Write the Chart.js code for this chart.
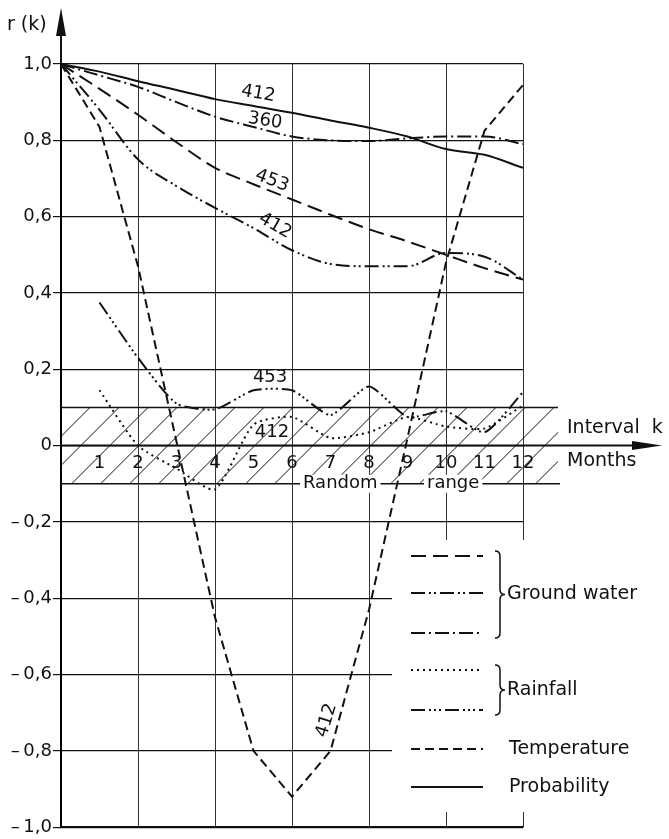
<!DOCTYPE html>
<html>
<head>
<meta charset="utf-8">
<script src="https://cdn.jsdelivr.net/npm/chart.js@4.4.1/dist/chart.umd.min.js"></script>
<style>
  html, body { margin: 0; padding: 0; background: #fff; }
  canvas { display: block; }
</style>
</head>
<body>
<canvas id="c" width="669" height="839"></canvas>
<script>
// Autocorrelation r(k) against interval k (months)
const months = [0, 1, 2, 3, 4, 5, 6, 7, 8, 9, 10, 11, 12];
const monthLabels = ['1', '2', '3', '4', '5', '6', '7', '8', '9', '10', '11', '12'];

// Ground water wells
const groundWater453 = [1.0, 0.935, 0.867, 0.795, 0.728, 0.685, 0.645, 0.605, 0.567, 0.535, 0.50, 0.465, 0.435];
const groundWater412 = [1.0, 0.88, 0.75, 0.68, 0.623, 0.57, 0.512, 0.476, 0.47, 0.47, 0.505, 0.495, 0.435];
const groundWater360 = [1.0, 0.97, 0.94, 0.90, 0.862, 0.835, 0.81, 0.80, 0.798, 0.805, 0.81, 0.81, 0.79];
// Rainfall stations (no value at k = 0)
const rainfall412 = [null, 0.145, 0.0, -0.06, -0.115, 0.055, 0.075, 0.02, 0.035, 0.075, 0.05, 0.045, 0.105];
const rainfall453 = [null, 0.375, 0.23, 0.11, 0.095, 0.145, 0.145, 0.08, 0.155, 0.075, 0.09, 0.035, 0.14];
// Temperature and probability
const temperature412 = [1.0, 0.835, 0.47, 0.01, -0.45, -0.80, -0.92, -0.80, -0.43, 0.02, 0.48, 0.825, 0.945];
const probability412 = [1.0, 0.98, 0.955, 0.932, 0.908, 0.89, 0.872, 0.852, 0.833, 0.81, 0.777, 0.762, 0.728];

// Band of correlations not distinguishable from random
const randomRange = [-0.1, 0.1];

const FONT = "'DejaVu Sans', 'Liberation Sans', sans-serif";
const INK = '#111';

const DASH = {
  longDash: [15, 7],
  dashDotDot: [14, 4, 2, 3, 2, 4],
  dashDot: [14, 4, 2, 4],
  dotted: [2, 4],
  dashThreeDots: [14, 4, 2, 3, 2, 3, 2, 4],
  shortDash: [9, 5],
  solid: []
};

function series(label, values, dash, extra) {
  return Object.assign({
    label,
    data: months.map((m, i) => ({ x: m, y: values[i] })),
    borderColor: INK,
    borderWidth: 2,
    borderDash: dash,
    pointRadius: 0,
    fill: false,
    tension: 0
  }, extra || {});
}

const datasets = [
  series('Ground water 453', groundWater453, DASH.longDash, { cubicInterpolationMode: 'monotone' }),
  series('Ground water 412', groundWater412, DASH.dashDotDot, { cubicInterpolationMode: 'monotone' }),
  series('Ground water 360', groundWater360, DASH.dashDot, { cubicInterpolationMode: 'monotone' }),
  series('Rainfall 412', rainfall412, DASH.dotted, { tension: 0.2 }),
  series('Rainfall 453', rainfall453, DASH.dashThreeDots, { tension: 0.2 }),
  series('Temperature 412', temperature412, DASH.shortDash),
  series('Probability 412', probability412, DASH.solid, { cubicInterpolationMode: 'monotone' })
];

const legendGroups = [
  { name: 'Ground water', members: [0, 1, 2], bracket: true },
  { name: 'Rainfall', members: [3, 4], bracket: true },
  { name: 'Temperature', members: [5], bracket: false },
  { name: 'Probability', members: [6], bracket: false }
];

function fmtTick(v) {
  const r = Math.round(v * 10) / 10;
  if (r === 0) return '0';
  const s = Math.abs(r).toFixed(1).replace('.', ',');
  return r < 0 ? '\u2013\u2009' + s : s;
}

function textWithBg(ctx, txt, x, y) {
  const w = ctx.measureText(txt).width;
  ctx.fillStyle = '#fff';
  ctx.fillRect(x - 3, y - 9, w + 6, 18);
  ctx.fillStyle = INK;
  ctx.fillText(txt, x, y);
}

const decorations = {
  id: 'decorations',
  beforeDatasetsDraw(chart) {
    const { ctx, chartArea: a, scales: { x, y } } = chart;
    ctx.save();

    // Random range band with diagonal hatching
    const yTop = y.getPixelForValue(randomRange[1]);
    const yBot = y.getPixelForValue(randomRange[0]);
    const xL = a.left, xR = 558;
    ctx.save();
    ctx.beginPath();
    ctx.rect(xL, yTop, xR - xL, yBot - yTop);
    ctx.clip();
    ctx.strokeStyle = '#111';
    ctx.lineWidth = 1;
    const h = yBot - yTop;
    for (let sx = xL - h; sx < xR + h; sx += 29) {
      ctx.beginPath();
      ctx.moveTo(sx, yBot);
      ctx.lineTo(sx + h, yTop);
      ctx.stroke();
    }
    ctx.restore();

    ctx.strokeStyle = INK;
    ctx.lineWidth = 1.6;
    ctx.beginPath();
    ctx.moveTo(xL, yTop); ctx.lineTo(xR, yTop);
    ctx.moveTo(xL, yBot); ctx.lineTo(xR + 2, yBot);
    ctx.stroke();

    // Zero line extended into the interval axis arrow
    const y0 = y.getPixelForValue(0);
    ctx.lineWidth = 2;
    ctx.beginPath();
    ctx.moveTo(a.left, y0); ctx.lineTo(636, y0);
    ctx.stroke();
    ctx.fillStyle = INK;
    ctx.beginPath();
    ctx.moveTo(662, y0); ctx.lineTo(632, y0 - 4.5); ctx.lineTo(632, y0 + 4.5); ctx.closePath();
    ctx.fill();

    // Vertical axis arrow
    ctx.lineWidth = 2;
    ctx.beginPath();
    ctx.moveTo(a.left, a.top); ctx.lineTo(a.left, 32);
    ctx.stroke();
    ctx.beginPath();
    ctx.moveTo(a.left, 8); ctx.lineTo(a.left - 5, 36); ctx.lineTo(a.left + 5, 36); ctx.closePath();
    ctx.fill();

    // Legend panel covering the grid
    ctx.fillStyle = '#fff';
    ctx.fillRect(392, 540, 180, 272);

    // Month numbers under the zero line
    ctx.font = '18px ' + FONT;
    ctx.textAlign = 'center';
    ctx.textBaseline = 'middle';
    ctx.fillStyle = INK;
    monthLabels.forEach((t, i) => {
      ctx.fillText(t, x.getPixelForValue(months[i + 1]), y0 + 18);
    });

    // Random range caption on the band edge
    ctx.font = '18px ' + FONT;
    ctx.textAlign = 'left';
    textWithBg(ctx, 'Random', 303, yBot);
    textWithBg(ctx, 'range', 427, yBot);

    // Axis captions
    ctx.font = '19px ' + FONT;
    ctx.fillStyle = INK;
    ctx.fillText('r (k)', 7, 25);
    ctx.fillText('Interval  k', 567, y0 - 18);
    ctx.fillText('Months', 567, y0 + 15);

    ctx.restore();
  },
  afterDatasetsDraw(chart) {
    const { ctx, scales: { x, y } } = chart;
    ctx.save();
    ctx.font = '18px ' + FONT;
    ctx.fillStyle = INK;
    ctx.textAlign = 'center';
    ctx.textBaseline = 'middle';
    // Station numbers written along the curves
    const tags = [
      { t: '412', m: 5.12, v: 0.922, rot: 10 },
      { t: '360', m: 5.3, v: 0.851, rot: 9 },
      { t: '453', m: 5.48, v: 0.694, rot: 21 },
      { t: '412', m: 5.56, v: 0.576, rot: 30 },
      { t: '453', m: 5.43, v: 0.178, rot: 0 },
      { t: '412', m: 5.48, v: 0.036, rot: 0 },
      { t: '412', m: 6.9, v: -0.72, rot: -73 }
    ];
    tags.forEach(g => {
      ctx.save();
      ctx.translate(x.getPixelForValue(g.m), y.getPixelForValue(g.v));
      ctx.rotate(g.rot * Math.PI / 180);
      ctx.fillText(g.t, 0, 0);
      ctx.restore();
    });

    // Legend
    const rowY = [556, 593, 633, 670, 710, 749, 787];
    ctx.lineWidth = 2;
    ctx.strokeStyle = INK;
    datasets.forEach((ds, i) => {
      ctx.setLineDash(ds.borderDash);
      ctx.beginPath();
      ctx.moveTo(411, rowY[i]);
      ctx.lineTo(483, rowY[i]);
      ctx.stroke();
    });
    ctx.setLineDash([]);
    ctx.font = '19px ' + FONT;
    ctx.textAlign = 'left';
    legendGroups.forEach(g => {
      const ys = g.members.map(i => rowY[i]);
      const top = Math.min(...ys) - 5, bot = Math.max(...ys) + 5;
      const mid = (top + bot) / 2;
      if (g.bracket) {
        ctx.lineWidth = 1.5;
        ctx.beginPath();
        ctx.moveTo(495, top);
        ctx.quadraticCurveTo(500, top, 500, top + 5);
        ctx.lineTo(500, mid - 5);
        ctx.quadraticCurveTo(500, mid, 505, mid);
        ctx.quadraticCurveTo(500, mid, 500, mid + 5);
        ctx.lineTo(500, bot - 5);
        ctx.quadraticCurveTo(500, bot, 495, bot);
        ctx.stroke();
        ctx.fillText(g.name, 507, mid);
      } else {
        ctx.fillText(g.name, 509, mid);
      }
    });
    ctx.restore();
  }
};

new Chart(document.getElementById('c'), {
  type: 'line',
  data: { datasets },
  options: {
    responsive: false,
    animation: false,
    devicePixelRatio: 1,
    layout: { padding: { top: 64, right: 146, bottom: 10, left: 0 } },
    plugins: { legend: { display: false }, tooltip: { enabled: false } },
    scales: {
      x: {
        type: 'linear', min: 0, max: 12,
        ticks: { display: false, stepSize: 1 },
        grid: {
          drawTicks: false,
          lineWidth: 1,
          color: c => (c.tick && c.tick.value % 2 === 0) ? '#333' : 'rgba(0,0,0,0)'
        },
        border: { display: true, color: INK, width: 1.5 }
      },
      y: {
        type: 'linear', min: -1, max: 1,
        ticks: { stepSize: 0.2, padding: 1, color: INK, font: { family: FONT, size: 18 }, callback: v => fmtTick(v) },
        grid: { color: INK, lineWidth: 1.2, tickLength: 8, drawTicks: true },
        border: { display: true, color: '#000', width: 2 },
        afterFit: s => { s.width = 61; }
      }
    }
  },
  plugins: [decorations]
});
</script>
</body>
</html>
